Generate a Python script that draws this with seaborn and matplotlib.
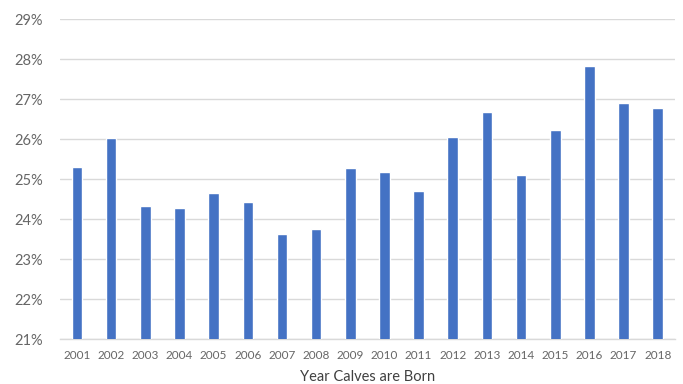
import matplotlib
matplotlib.use("Agg")
import matplotlib.pyplot as plt
import seaborn as sns
import pandas as pd
from matplotlib.ticker import FuncFormatter, MultipleLocator

years = [str(y) for y in range(2001, 2019)]
share_pct = [25.29, 26.02, 24.33, 24.27, 24.65, 24.42, 23.62, 23.74, 25.28,
             25.17, 24.69, 26.05, 26.68, 25.10, 26.22, 27.82, 26.90, 26.77]

df = pd.DataFrame({"year": years, "share": share_pct})

sns.set_theme(style="white")
plt.rcParams["font.family"] = ["Lato", "DejaVu Sans"]

fig = plt.figure(figsize=(6.83, 3.84), dpi=100)
ax = fig.add_axes([0.0878, 0.117, 0.9002, 0.8335])

sns.barplot(data=df, x="year", y="share", color="#4472C4", width=0.31,
            saturation=1, ax=ax, zorder=3)

ax.set_ylim(21, 29)
ax.yaxis.set_major_locator(MultipleLocator(1))
ax.yaxis.set_major_formatter(FuncFormatter(lambda v, _: f"{v:.0f}%"))
ax.grid(axis="y", color="#D9D9D9", linewidth=1.0, zorder=0)
ax.set_xlim(-0.5, len(years) - 0.5)

for s in ["top", "right", "left"]:
    ax.spines[s].set_visible(False)
ax.spines["bottom"].set_color("#D9D9D9")
ax.spines["bottom"].set_linewidth(1.0)

ax.tick_params(axis="y", labelsize=10.5, labelcolor="#666666", length=0, pad=12)
ax.tick_params(axis="x", labelsize=8.5, labelcolor="#666666", length=0, pad=8)

ax.set_ylabel("")
ax.set_xlabel("Year Calves are Born", fontsize=10.5, color="#404040", labelpad=6)

fig.savefig("out.png", dpi=100)
